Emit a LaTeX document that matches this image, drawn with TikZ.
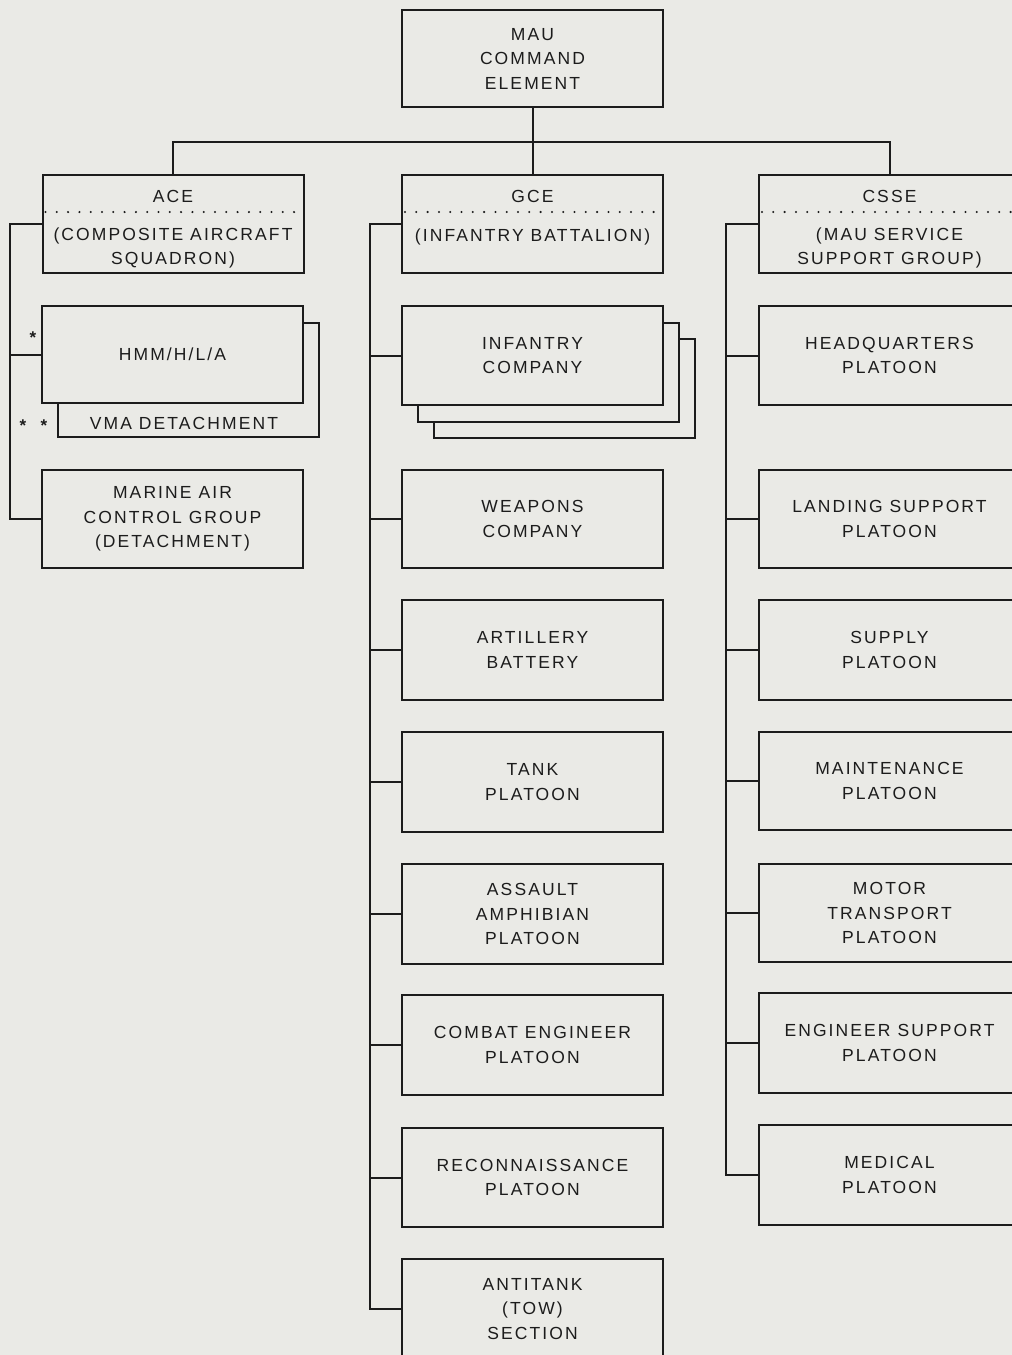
\documentclass[tikz,border=0pt]{standalone}
\usepackage{fontspec}
\setmainfont[LetterSpace=12]{Liberation Sans}
\definecolor{paper}{RGB}{234,234,230}
\definecolor{ink}{RGB}{28,28,28}
\begin{document}
\begin{tikzpicture}[x=1pt,y=-1pt,
  box/.style={draw=ink, line width=2pt, fill=paper, minimum width=261pt,
    minimum height=98pt, inner sep=0pt, align=center, text=ink,
    font=\fontsize{17.5}{24.5}\selectfont},
  plain/.style={inner sep=0pt, align=center, text=ink,
    font=\fontsize{17.5}{24}\selectfont},
  wire/.style={draw=ink, line width=2pt},
  divider/.style={draw=ink, line width=2.3pt, line cap=round,
    dash pattern=on 0pt off 11.3pt},
  starmark/.style={inner sep=0pt, text=ink, font=\fontsize{17}{17}\selectfont\bfseries}]
\useasboundingbox (0,0) rectangle (1012,1355);
\clip (0,0) rectangle (1012,1355);
\fill[paper] (0,0) rectangle (1012,1355);

% command element
\node[box, minimum height=97pt] (mau) at (532.5,58.5) {MAU\\COMMAND\\ELEMENT};

% the three major elements, each with a title above a dotted rule
\node[box] (ace)  at (173,224)   {};
\node[box] (gce)  at (532.5,224) {};
\node[box] (csse) at (889.5,224) {};
\foreach \e/\top/\sub/\suby in {ace/ACE/{(COMPOSITE AIRCRAFT\\SQUADRON)}/248,
                          gce/GCE/{(INFANTRY BATTALION)}/237,
                          csse/CSSE/{(MAU SERVICE\\SUPPORT GROUP)}/248}{
  \node[plain] (\e-head) at ([yshift=28pt]\e.center) {\top};
  \node[plain] (\e-sub)  at (\e.center |- 0,\suby) {\sub};
  \draw[divider] ([xshift=4pt,yshift=12pt]\e.west) -- ([yshift=12pt]\e.east);
}

% tree from the command element
\coordinate (bar) at (532.5,142);
\draw[wire] (mau.south) -- (bar);
\draw[wire] (ace.north) |- (bar) -| (csse.north);
\draw[wire] (bar) -- (gce.north);

% ---- aviation combat element ----
\node[box, minimum height=114pt, minimum width=261pt] (vma) at (188.5,380) {};
\node[plain] (vma-text) at (184,423) {VMA DETACHMENT};
\node[box, minimum height=97pt] (hmm) at (172.5,354.5) {HMM/H/L/A};
\node[box] (macg) at (172.5,519) {MARINE AIR\\CONTROL GROUP\\(DETACHMENT)};
\node[starmark] (star1) at (33,338) {*};
\node[starmark] (star2) at (23,426) {*};
\node[starmark] (star3) at (44,426) {*};

\coordinate (aceT) at (10,0);
\draw[wire] (ace.west) -| (aceT |- macg.west) -- (macg.west);
\draw[wire] (hmm.west) -- (aceT |- hmm.west);

% ---- ground combat element ----
\node[box, minimum height=99pt] (inf3) at (564.5,388.5) {};
\node[box, minimum height=99pt] (inf2) at (548.5,372.5) {};
\node[box, minimum height=99pt] (inf) at (532.5,355.5) {INFANTRY\\COMPANY};
\node[box] (wpn)   at (532.5,519)    {WEAPONS\\COMPANY};
\node[box, minimum height=100pt] (arty)  at (532.5,650)  {ARTILLERY\\BATTERY};
\node[box, minimum height=100pt] (tank)  at (532.5,782)  {TANK\\PLATOON};
\node[box, minimum height=100pt] (aav)   at (532.5,914)  {ASSAULT\\AMPHIBIAN\\PLATOON};
\node[box, minimum height=100pt] (ceng)  at (532.5,1045) {COMBAT ENGINEER\\PLATOON};
\node[box, minimum height=99pt]  (recon) at (532.5,1177.5) {RECONNAISSANCE\\PLATOON};
\node[box, minimum height=100pt] (tow)   at (532.5,1309) {ANTITANK\\(TOW)\\SECTION};

\coordinate (gceT) at (370,0);
\draw[wire] (gce.west) -| (gceT |- tow.west) -- (tow.west);
\foreach \n in {inf,wpn,arty,tank,aav,ceng,recon}
  \draw[wire] (\n.west) -- (gceT |- \n.west);

% ---- combat service support element ----
\node[box, minimum height=99pt]  (hq)    at (889.5,355.5) {HEADQUARTERS\\PLATOON};
\node[box]                       (lsp)   at (889.5,519)   {LANDING SUPPORT\\PLATOON};
\node[box, minimum height=100pt] (sup)   at (889.5,650)   {SUPPLY\\PLATOON};
\node[box]                       (mnt)   at (889.5,781)   {MAINTENANCE\\PLATOON};
\node[box]                       (mtr)   at (889.5,913)   {MOTOR\\TRANSPORT\\PLATOON};
\node[box, minimum height=100pt] (esp)   at (889.5,1043)  {ENGINEER SUPPORT\\PLATOON};
\node[box, minimum height=100pt] (med)   at (889.5,1175)  {MEDICAL\\PLATOON};

\coordinate (csseT) at (726,0);
\draw[wire] (csse.west) -| (csseT |- med.west) -- (med.west);
\foreach \n in {hq,lsp,sup,mnt,mtr,esp}
  \draw[wire] (\n.west) -- (csseT |- \n.west);
\end{tikzpicture}
\end{document}
